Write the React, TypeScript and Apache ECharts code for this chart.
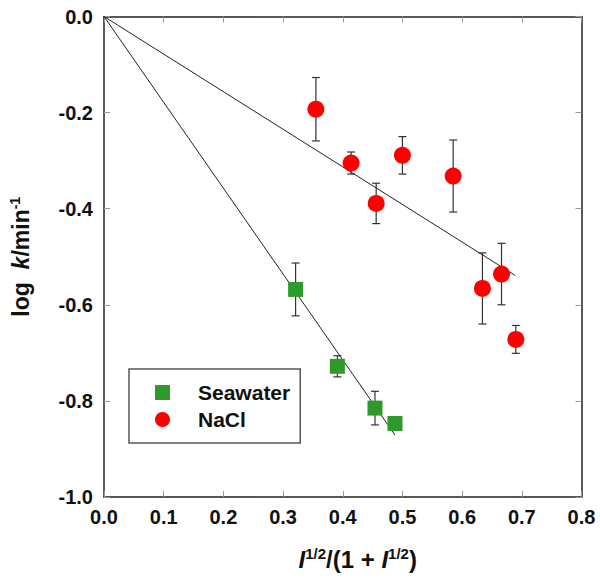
import React, { useEffect, useRef } from "react";
import * as echarts from "echarts";

const seawaterX = [0.321, 0.391, 0.454, 0.4875];
const seawaterY = [-0.568, -0.728, -0.815, -0.847];
const seawaterErr = [0.055, 0.022, 0.035, 0.0];

const naclX = [0.355, 0.414, 0.456, 0.5, 0.585, 0.634, 0.666, 0.69];
const naclY = [-0.193, -0.305, -0.389, -0.289, -0.332, -0.566, -0.536, -0.672];
const naclErr = [0.066, 0.023, 0.042, 0.039, 0.075, 0.074, 0.064, 0.029];

const seawaterFitX = [0, 0.4875];
const seawaterFitY = [0, -0.871];
const naclFitX = [0, 0.689];
const naclFitY = [0, -0.539];

const legendNames = ["Seawater", "NaCl"];

const FONT = "Liberation Sans, Arial, Helvetica, sans-serif";

function errRender(params: any, api: any) {
  const x = api.value(0);
  const y = api.value(1);
  const e = api.value(2);
  if (!e) return { type: "group", children: [] };
  const top = api.coord([x, y + e]);
  const bot = api.coord([x, y - e]);
  const cap = 4;
  const style = { stroke: "#333", lineWidth: 1.2 };
  return {
    type: "group",
    children: [
      { type: "line", shape: { x1: top[0], y1: top[1], x2: bot[0], y2: bot[1] }, style },
      { type: "line", shape: { x1: top[0] - cap, y1: top[1], x2: top[0] + cap, y2: top[1] }, style },
      { type: "line", shape: { x1: bot[0] - cap, y1: bot[1], x2: bot[0] + cap, y2: bot[1] }, style },
    ],
  };
}

export default function App() {
  const ref = useRef<HTMLDivElement>(null);
  useEffect(() => {
    document.body.style.margin = "0";
    const chart = echarts.init(ref.current!, null, { renderer: "svg" });
    const axisLine = { show: true, onZero: false, lineStyle: { color: "#222", width: 1.5 } };
    const axisTick = { show: true, inside: true, length: 6, lineStyle: { color: "#999", width: 1 } };
    const labelStyle = { fontSize: 20, fontWeight: "bold", color: "#111", fontFamily: FONT };
    const zip = (a: number[], b: number[], c?: number[]) =>
      a.map((v, i) => (c ? [v, b[i], c[i]] : [v, b[i]]));
    chart.setOption({
      animation: false,
      backgroundColor: "#fff",
      textStyle: { fontFamily: FONT },
      grid: { left: 101.5, right: 18.5, top: 16.5, bottom: 82 },
      legend: {
        data: legendNames,
        orient: "vertical",
        left: 129,
        top: 369,
        itemWidth: 15,
        itemHeight: 15,
        itemGap: 6,
        padding: [13, 10, 13, 26],
        borderColor: "#555",
        borderWidth: 1.5,
        backgroundColor: "#fff",
        selectedMode: false,
        formatter: (name: string) => `{t|${name}}`,
        textStyle: {
          fontSize: 21,
          fontWeight: "bold",
          color: "#111",
          fontFamily: FONT,
          rich: {
            t: { fontSize: 21, fontWeight: "bold", color: "#111", fontFamily: FONT, lineHeight: 21, padding: [0, 0, 0, 23] },
          },
        },
      },
      xAxis: [
        {
          type: "value",
          min: 0,
          max: 0.8,
          interval: 0.1,
          position: "bottom",
          axisLine,
          axisTick,
          splitLine: { show: false },
          axisLabel: { ...labelStyle, margin: 10, formatter: (v: number) => v.toFixed(1) },
          name: "{i|I}{s|1/2}/(1 + {i|I}{s|1/2})",
          nameLocation: "middle",
          nameGap: 49,
          nameTextStyle: {
            fontSize: 24,
            fontWeight: "bold",
            color: "#111",
            fontFamily: FONT,
            padding: [0, 0, 0, 30],
            rich: {
              i: { fontSize: 24, fontWeight: "bold", fontStyle: "italic", color: "#111", fontFamily: FONT },
              s: { fontSize: 15, fontWeight: "bold", color: "#111", fontFamily: FONT, padding: [0, 0, 12, 0] },
            },
          },
        },
        {
          type: "value",
          min: 0,
          max: 0.8,
          interval: 0.1,
          position: "top",
          axisLine,
          axisTick,
          splitLine: { show: false },
          axisLabel: { show: false },
        },
      ],
      yAxis: [
        {
          type: "value",
          min: -1,
          max: 0,
          interval: 0.2,
          position: "left",
          axisLine,
          axisTick,
          splitLine: { show: false },
          axisLabel: { ...labelStyle, margin: 11, formatter: (v: number) => (Math.abs(v) < 1e-9 ? "0.0" : v.toFixed(1)) },
          name: "log  {i|k}/min{s|-1}",
          nameLocation: "middle",
          nameRotate: 90,
          nameGap: 70,
          nameTextStyle: {
            fontSize: 23,
            fontWeight: "bold",
            color: "#111",
            fontFamily: FONT,
            rich: {
              i: { fontSize: 23, fontWeight: "bold", fontStyle: "italic", color: "#111", fontFamily: FONT },
              s: { fontSize: 14, fontWeight: "bold", color: "#111", fontFamily: FONT, padding: [0, 0, 12, 0] },
            },
          },
        },
        {
          type: "value",
          min: -1,
          max: 0,
          interval: 0.2,
          position: "right",
          axisLine,
          axisTick,
          splitLine: { show: false },
          axisLabel: { show: false },
        },
      ],
      series: [
        {
          name: "errSeawater",
          type: "custom",
          renderItem: errRender,
          data: zip(seawaterX, seawaterY, seawaterErr),
          encode: { x: 0, y: 1 },
          z: 1,
          silent: true,
        },
        {
          name: "errNaCl",
          type: "custom",
          renderItem: errRender,
          data: zip(naclX, naclY, naclErr),
          encode: { x: 0, y: 1 },
          z: 1,
          silent: true,
        },
        {
          name: "fitSeawater",
          type: "line",
          data: zip(seawaterFitX, seawaterFitY),
          symbol: "none",
          lineStyle: { color: "#222", width: 1 },
          z: 2,
        },
        {
          name: "fitNaCl",
          type: "line",
          data: zip(naclFitX, naclFitY),
          symbol: "none",
          lineStyle: { color: "#222", width: 1 },
          z: 2,
        },
        {
          name: "Seawater",
          type: "scatter",
          symbol: "rect",
          symbolSize: 15,
          itemStyle: { color: "#2e9a2e", opacity: 1 },
          data: zip(seawaterX, seawaterY),
          z: 3,
        },
        {
          name: "NaCl",
          type: "scatter",
          symbol: "circle",
          symbolSize: 17,
          itemStyle: { color: "#ff0000", opacity: 1 },
          data: zip(naclX, naclY),
          z: 3,
        },
      ],
    });
    return () => chart.dispose();
  }, []);
  return <div ref={ref} style={{ width: 600, height: 579 }} />;
}
